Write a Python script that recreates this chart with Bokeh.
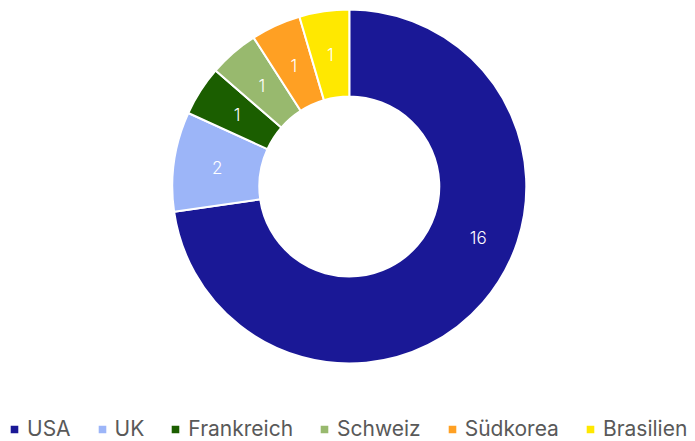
import math
from bokeh.plotting import figure
from bokeh.models import Range1d, Legend, LegendItem, ColumnDataSource
from bokeh.core.properties import value
from bokeh.embed import file_html
from bokeh.resources import INLINE

# ---- data ----
countries = ["USA", "UK", "Frankreich", "Schweiz", "Südkorea", "Brasilien"]
counts = [16, 2, 1, 1, 1, 1]
colors = ["#1a1896", "#9cb5f8", "#1b5e00", "#98b96e", "#ffa023", "#ffe800"]

# ---- layout ----
W, H = 695, 441
CX, CY = 348.8, H - 186.0      # donut centre (data units == pixels)
R_OUT, R_IN = 177.0, 90.0
LABEL_R = (R_OUT + R_IN) / 2
USA_LABEL = (111.6, 138.7)     # angle from top (deg, clockwise), radius

total = sum(counts)
starts, ends, lx, ly = [], [], [], []
cum = 0
for name, c in zip(countries, counts):
    a0 = math.pi / 2 - 2 * math.pi * cum / total
    a1 = math.pi / 2 - 2 * math.pi * (cum + c) / total
    starts.append(a0)
    ends.append(a1)
    if name == "USA":
        ang = math.radians(90 - USA_LABEL[0])
        r = USA_LABEL[1]
    else:
        ang = (a0 + a1) / 2
        r = LABEL_R
    lx.append(CX + r * math.cos(ang))
    ly.append(CY + r * math.sin(ang))
    cum += c

src = ColumnDataSource(dict(country=countries, count=counts, color=colors,
                            start=starts, end=ends, lx=lx, ly=ly,
                            label=[str(c) for c in counts],
                            x=[CX] * len(counts), y=[CY] * len(counts)))

p = figure(width=W, height=H, output_backend="svg", toolbar_location=None,
           x_range=Range1d(0, W), y_range=Range1d(0, H), min_border=0)
p.axis.visible = False
p.grid.visible = False
p.outline_line_color = None
p.background_fill_color = "white"
p.border_fill_color = "white"

wedges = p.annular_wedge(x="x", y="y", inner_radius=R_IN, outer_radius=R_OUT,
                         start_angle="start", end_angle="end", direction="clock",
                         fill_color="color", line_color="white", line_width=2,
                         source=src)

p.text(x="lx", y="ly", text="label", source=src, text_color="white",
       text_font=value("'Inter Light', Inter"), text_font_size="17px",
       text_align="center", text_baseline="middle")

items = [LegendItem(label=c, renderers=[wedges], index=i) for i, c in enumerate(countries)]
legend = Legend(items=items, orientation="horizontal", location=(8, 0),
                glyph_width=12, glyph_height=12, label_standoff=7, spacing=25,
                padding=0, margin=0, border_line_color=None,
                background_fill_alpha=0,
                label_text_font="Inter", label_text_font_size="21px",
                label_text_color="#595959")
p.add_layout(legend)

open("out.html", "w").write(file_html(p, INLINE))
